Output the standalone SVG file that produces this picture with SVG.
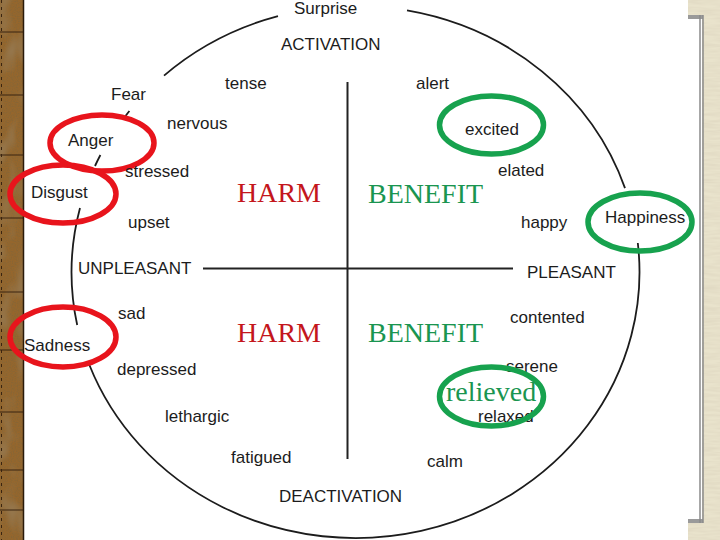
<svg xmlns="http://www.w3.org/2000/svg" width="720" height="540" viewBox="0 0 720 540">
  <defs>
    <filter id="grain" x="0" y="0" width="100%" height="100%" filterUnits="objectBoundingBox">
      <feTurbulence type="fractalNoise" baseFrequency="0.8" numOctaves="2" seed="3" result="n"/>
      <feColorMatrix in="n" type="matrix" values="0 0 0 0 0.22  0 0 0 0 0.13  0 0 0 0 0.04  1.6 0 0 0 -0.55"/>
    </filter>
    <filter id="blot" x="0" y="0" width="100%" height="100%" filterUnits="objectBoundingBox">
      <feTurbulence type="fractalNoise" baseFrequency="0.06 0.03" numOctaves="2" seed="11" result="n"/>
      <feColorMatrix in="n" type="matrix" values="0 0 0 0 0.3  0 0 0 0 0.18  0 0 0 0 0.07  3 0 0 0 -1.45"/>
    </filter>
    <filter id="grain2" x="0" y="0" width="100%" height="100%" filterUnits="objectBoundingBox">
      <feTurbulence type="fractalNoise" baseFrequency="0.05 0.4" numOctaves="2" seed="7" result="n"/>
      <feColorMatrix in="n" type="matrix" values="0 0 0 0 0.7  0 0 0 0 0.64  0 0 0 0 0.5  1 0 0 0 -0.3"/>
    </filter>
    <style>
      .lbl { font-family: "Liberation Sans", Arial, sans-serif; font-size: 17px; fill: #1c1c1c; }
      .harm { font-family: "Liberation Serif", "Times New Roman", serif; font-size: 28px; fill: #c4161c; }
      .ben { font-family: "Liberation Serif", "Times New Roman", serif; font-size: 28px; fill: #1a9550; }
      .arc { fill: none; stroke: #1c1c1c; stroke-width: 1.8; }
      .axis { fill: none; stroke: #222; stroke-width: 2; }
      .red { fill: none; stroke: #e8141c; stroke-width: 5.5; }
      .grn { fill: none; stroke: #17a24e; stroke-width: 5.5; }
    </style>
  </defs>

  <!-- background -->
  <rect x="0" y="0" width="720" height="540" fill="#ffffff"/>
  <g id="left-strip">
    <rect x="0" y="0" width="24" height="540" fill="#96662c"/>
    <rect x="0" y="0" width="24" height="540" fill="#000" filter="url(#grain)"/>
    <rect x="0" y="0" width="24" height="540" fill="#000" filter="url(#blot)"/>
    <g stroke="#3a2410" stroke-width="1">
      <line x1="0" y1="32" x2="24" y2="32"/>
      <line x1="0" y1="95" x2="24" y2="95"/>
      <line x1="0" y1="155" x2="24" y2="155"/>
      <line x1="0" y1="218" x2="24" y2="218"/>
      <line x1="0" y1="292" x2="24" y2="292"/>
      <line x1="0" y1="350" x2="24" y2="350"/>
      <line x1="0" y1="412" x2="24" y2="412"/>
      <line x1="0" y1="470" x2="24" y2="470"/>
      <line x1="0" y1="510" x2="24" y2="510"/>
    </g>
    <line x1="1.5" y1="0" x2="1.5" y2="540" stroke="#3a2410" stroke-width="1" stroke-dasharray="3 4"/>
    <line x1="23.5" y1="0" x2="23.5" y2="540" stroke="#2a1a0a" stroke-width="1.5"/>
  </g>
  <g id="right-strip">
    <rect x="688" y="0" width="32" height="540" fill="#e9e3cc"/>
    <rect x="688" y="0" width="32" height="540" fill="#000" filter="url(#grain2)"/>
    <rect x="688" y="17" width="14" height="505" fill="#ffffff"/>
    <rect x="688" y="15" width="15" height="4" fill="#9a9a9a"/>
    <rect x="688" y="519" width="15" height="4" fill="#9a9a9a"/>
    <line x1="700" y1="15" x2="700" y2="523" stroke="#8a8a8a" stroke-width="1.5"/>
    <line x1="703" y1="15" x2="703" y2="523" stroke="#8a8a8a" stroke-width="1.5"/>
  </g>

  <!-- connectors: circumplex outline and axes -->
  <g id="connectors">
    <path class="arc" d="M407,10.4 A284,266 0 0 1 625,188.1"/>
    <path class="arc" d="M637.8,243 A284,266 0 0 1 89.4,365"/>
    <path class="arc" d="M77.2,325 A284,266 0 0 1 80,208"/>
    <path class="arc" d="M95,166 A284,266 0 0 1 100.4,155"/>
    <path class="arc" d="M125.5,116 A284,266 0 0 1 129.4,111"/>
    <path class="arc" d="M164,75.6 A284,266 0 0 1 278,16.1"/>
    <line class="axis" x1="347.5" y1="82" x2="347.5" y2="459"/>
    <line class="axis" x1="203" y1="268.5" x2="513" y2="268.5"/>
  </g>

  <!-- axis labels -->
  <g id="surprise"><text class="lbl" x="294" y="14">Surprise</text></g>
  <g id="activation"><text class="lbl" x="281" y="50">ACTIVATION</text></g>
  <g id="deactivation"><text class="lbl" x="279" y="502">DEACTIVATION</text></g>
  <g id="unpleasant"><text class="lbl" x="78" y="274">UNPLEASANT</text></g>
  <g id="pleasant"><text class="lbl" x="527" y="278">PLEASANT</text></g>

  <!-- affect words -->
  <g id="tense"><text class="lbl" x="225" y="89">tense</text></g>
  <g id="alert"><text class="lbl" x="416" y="89">alert</text></g>
  <g id="fear"><text class="lbl" x="111" y="100">Fear</text></g>
  <g id="nervous"><text class="lbl" x="167" y="129">nervous</text></g>
  <g id="anger">
    <ellipse class="red" cx="102" cy="143" rx="52" ry="28"/>
    <text class="lbl" x="68" y="146">Anger</text>
  </g>
  <g id="stressed"><text class="lbl" x="125" y="177">stressed</text></g>
  <g id="disgust">
    <ellipse class="red" cx="63" cy="194" rx="53" ry="29"/>
    <text class="lbl" x="31" y="198">Disgust</text>
  </g>
  <g id="upset"><text class="lbl" x="128" y="228">upset</text></g>
  <g id="sad"><text class="lbl" x="118" y="319">sad</text></g>
  <g id="sadness">
    <ellipse class="red" cx="63" cy="337" rx="53" ry="30"/>
    <text class="lbl" x="24" y="351">Sadness</text>
  </g>
  <g id="depressed"><text class="lbl" x="117" y="375">depressed</text></g>
  <g id="lethargic"><text class="lbl" x="165" y="422">lethargic</text></g>
  <g id="fatigued"><text class="lbl" x="231" y="463">fatigued</text></g>
  <g id="calm"><text class="lbl" x="427" y="467">calm</text></g>

  <g id="excited">
    <ellipse class="grn" cx="491.5" cy="125" rx="52" ry="29"/>
    <text class="lbl" x="465" y="135">excited</text>
  </g>
  <g id="elated"><text class="lbl" x="498" y="176">elated</text></g>
  <g id="happy"><text class="lbl" x="521" y="228">happy</text></g>
  <g id="happiness">
    <text class="lbl" x="605" y="223">Happiness</text>
    <ellipse class="grn" cx="640" cy="222" rx="52" ry="29"/>
  </g>
  <g id="contented"><text class="lbl" x="510" y="323">contented</text></g>
  <g id="serene"><text class="lbl" x="506" y="372">serene</text></g>
  <g id="relaxed"><text class="lbl" x="478" y="422">relaxed</text></g>
  <g id="relieved">
    <ellipse class="grn" cx="491.5" cy="396.5" rx="52" ry="29.5"/>
    <text class="ben" x="446" y="401">relieved</text>
  </g>

  <!-- quadrant labels -->
  <g id="harm-top"><text class="harm" x="237" y="202">HARM</text></g>
  <g id="benefit-top"><text class="ben" x="368" y="203">BENEFIT</text></g>
  <g id="harm-bottom"><text class="harm" x="237" y="342">HARM</text></g>
  <g id="benefit-bottom"><text class="ben" x="368" y="342">BENEFIT</text></g>
</svg>
